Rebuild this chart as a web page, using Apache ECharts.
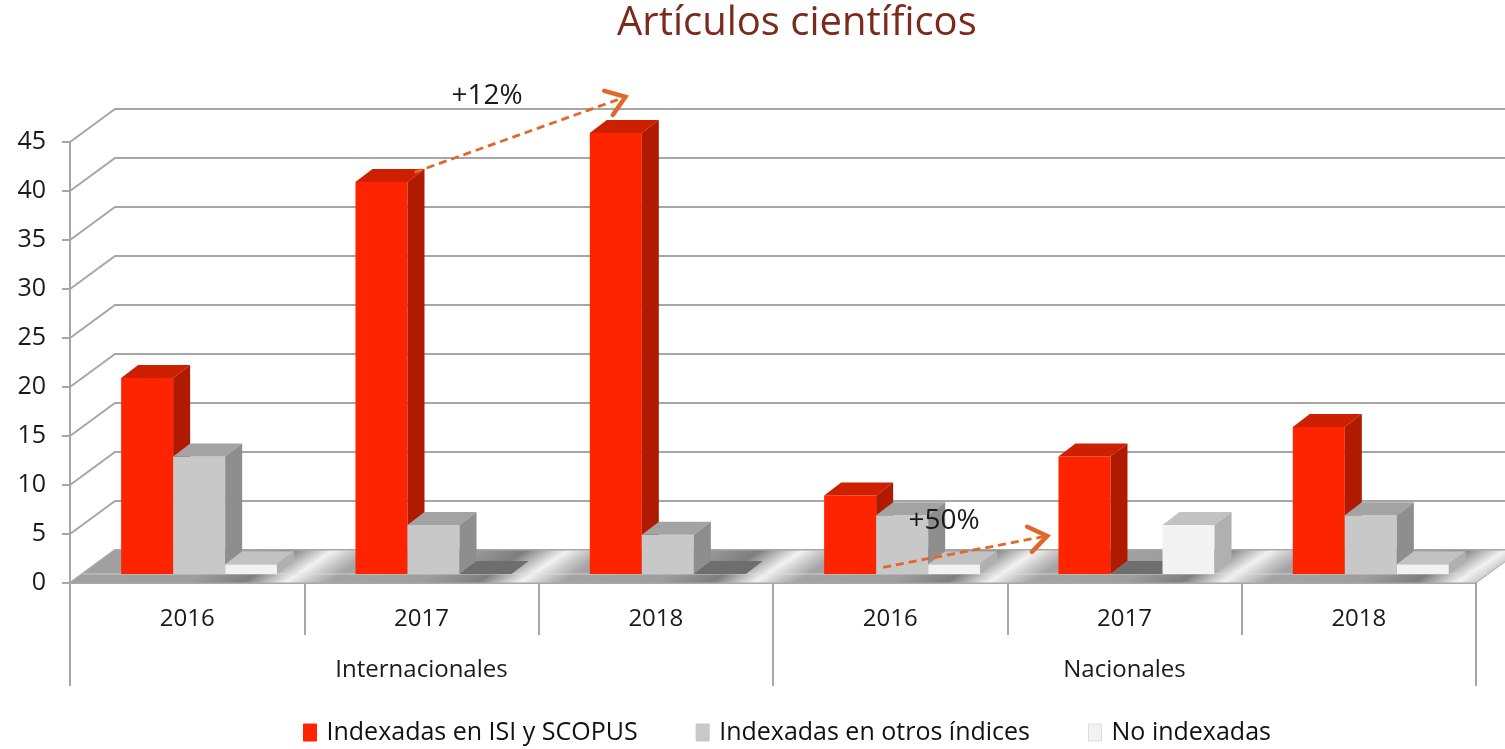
<!DOCTYPE html>
<html>
<head>
<meta charset="utf-8">
<script src="https://cdn.jsdelivr.net/npm/echarts@6/dist/echarts.min.js"></script>
<style>
  html, body { margin: 0; padding: 0; background: #fff; }
  #chart { width: 1505px; height: 749px; }
</style>
</head>
<body>
<div id="chart"></div>
<script>
// datos
var years = ['2016', '2017', '2018', '2016', '2017', '2018'];
var groups = ['Internacionales', 'Nacionales'];
var seriesNames = ['Indexadas en ISI y SCOPUS', 'Indexadas en otros índices', 'No indexadas'];
var isiScopus = [20, 40, 45, 8, 12, 15];
var otrosIndices = [12, 5, 4, 6, 0, 6];
var noIndexadas = [1, 0, 0, 1, 5, 1];
var yTicks = [0, 5, 10, 15, 20, 25, 30, 35, 40, 45];

// flechas de crecimiento (posicion en categorias / valor)
var arrowLabels = ['+12%', '+50%'];
var arrowFrom = [[0.97, 41.9], [2.97, 1.6]];
var arrowTo = [[1.87, 49.6], [3.67, 4.8]];
var arrowText = [[1.28, 49.7], [3.23, 6.3]];

var WALL_X = 45, WALL_Y = 33;     // profundidad de la pared
var DX = 17, DY = 13;             // profundidad de cada barra
var SHIFT_X = 12, SHIFT_Y = -9;   // barras apoyadas dentro del suelo
var GRID_COLOR = '#a6a6a6';
var FONT = '"Open Sans", Lato, sans-serif';

var palettes = [
  { front: '#ff2400', top: '#cc2000', side: '#b01a00' },
  { front: '#c8c8c8', top: '#a3a3a3', side: '#8e8e8e' },
  { front: '#f2f2f2', top: '#c2c2c2', side: '#b0b0b0' }
];
var allValues = [isiScopus, otrosIndices, noIndexadas];

var chart = echarts.init(document.getElementById('chart'));

function barRenderer(s) {
  return function (params, api) {
    var i = api.value(0), v = api.value(1);
    var base = api.coord([i, 0]);
    var top = api.coord([i, v]);
    var band = api.size([1, 0])[0];
    var bw = band * 0.222;
    var x0 = base[0] - 1.5 * bw + s * bw + SHIFT_X;
    var yb = base[1] + SHIFT_Y, yt = top[1] + SHIFT_Y;
    var p = palettes[s];
    if (v <= 0) {
      return {
        type: 'polygon',
        shape: { points: [[x0, yb], [x0 + bw, yb], [x0 + bw + DX, yb - DY], [x0 + DX, yb - DY]] },
        style: { fill: '#6e6e6e' }
      };
    }
    return {
      type: 'group',
      children: [
        { type: 'rect', shape: { x: x0, y: yt, width: bw, height: yb - yt }, style: { fill: p.front } },
        { type: 'polygon', shape: { points: [[x0, yt], [x0 + bw, yt], [x0 + bw + DX, yt - DY], [x0 + DX, yt - DY]] }, style: { fill: p.top } },
        { type: 'polygon', shape: { points: [[x0 + bw, yt], [x0 + bw + DX, yt - DY], [x0 + bw + DX, yb - DY], [x0 + bw, yb]] }, style: { fill: p.side } }
      ]
    };
  };
}

var barSeries = seriesNames.map(function (name, s) {
  return {
    name: name,
    type: 'custom',
    z: 10,
    itemStyle: { color: palettes[s].front },
    renderItem: barRenderer(s),
    data: allValues[s].map(function (v, i) { return [i, v]; })
  };
});

// suelo metalico: vetas diagonales repetidas en cada categoria
function floorStops() {
  var st = [{ offset: 0, color: '#a0a0a0' }];
  function add(o, c) { st.push({ offset: Math.max(0, Math.min(1, o)), color: c }); }
  for (var k = 1; k <= 6; k++) {
    var pk = k / 6 - 0.014;
    add(pk - 0.07, '#9e9e9e');
    add(pk - 0.03, '#7e7e7e');
    add(pk, '#f2f2f2');
    add(pk + 0.015, '#c8c8c8');
    add(pk + 0.03, '#a4a4a4');
  }
  add(1, '#a2a2a2');
  return st;
}

var option = {
  animation: false,
  backgroundColor: '#fff',
  title: {
    text: 'Artículos científicos',
    left: 612,
    top: -1,
    textStyle: { fontFamily: FONT, fontSize: 40, fontWeight: 'normal', color: '#7b2a1e' }
  },
  legend: {
    data: seriesNames.map(function (n, s) {
      return { name: n, itemStyle: { color: palettes[s].front, borderColor: s === 2 ? '#dddddd' : palettes[s].front, borderWidth: 1 } };
    }),
    bottom: -1,
    left: 298,
    icon: 'rect',
    itemWidth: 13,
    itemHeight: 17,
    itemGap: 58,
    textStyle: { fontFamily: FONT, fontSize: 25, color: '#111', padding: [0, 0, 0, 5] }
  },
  grid: { left: 70, right: 29, top: 142, bottom: 166, outerBoundsMode: 'none' },
  xAxis: [
    {
      type: 'category',
      data: years,
      position: 'bottom',
      axisLine: { show: true, lineStyle: { color: GRID_COLOR, width: 2 } },
      axisTick: { show: true, length: 52, lineStyle: { color: GRID_COLOR, width: 2 } },
      axisLabel: { fontFamily: FONT, fontSize: 24, color: '#1a1a1a', margin: 24 },
      splitLine: { show: false }
    },
    {
      type: 'category',
      data: groups,
      position: 'bottom',
      axisLine: { show: false },
      axisTick: { show: true, length: 103, lineStyle: { color: GRID_COLOR, width: 2 } },
      axisLabel: { fontFamily: FONT, fontSize: 24, color: '#1a1a1a', margin: 75 },
      splitLine: { show: false }
    }
  ],
  yAxis: {
    type: 'value',
    min: 0,
    max: 45,
    interval: 5,
    axisLine: { show: true, lineStyle: { color: GRID_COLOR, width: 2 } },
    axisTick: { show: true, length: 8, lineStyle: { color: GRID_COLOR, width: 2 } },
    axisLabel: { fontFamily: FONT, fontSize: 25, color: '#1a1a1a', margin: 24 },
    splitLine: { show: false }
  },
  series: [
    {
      // rejilla en la pared del fondo
      type: 'custom',
      z: 1,
      silent: true,
      renderItem: function (params, api) {
        var cs = params.coordSys;
        var y = api.coord([0, api.value(1)])[1];
        return {
          type: 'polyline',
          shape: { points: [[cs.x, y], [cs.x + WALL_X, y - WALL_Y], [cs.x + cs.width + WALL_X, y - WALL_Y]] },
          style: { stroke: GRID_COLOR, lineWidth: 2, fill: null }
        };
      },
      data: yTicks.map(function (v) { return [0, v]; })
    },
    {
      // suelo
      type: 'custom',
      z: 2,
      silent: true,
      renderItem: function (params, api) {
        var cs = params.coordSys;
        var y = api.coord([0, 0])[1];
        var band = api.size([1, 0])[0];
        var L = 6 * band / 3.25;
        var grad = new echarts.graphic.LinearGradient(cs.x, y, cs.x + L, y + 1.5 * L, floorStops(), true);
        return {
          type: 'group',
          children: [
            {
              type: 'polygon',
              shape: { points: [[cs.x, y], [cs.x + cs.width, y], [cs.x + cs.width + WALL_X, y - WALL_Y], [cs.x + WALL_X, y - WALL_Y]] },
              style: { fill: grad, stroke: '#a8a8a8', lineWidth: 1 }
            },
            {
              type: 'line',
              shape: { x1: cs.x - SHIFT_Y * WALL_X / WALL_Y, y1: y + SHIFT_Y, x2: cs.x + cs.width - SHIFT_Y * WALL_X / WALL_Y, y2: y + SHIFT_Y },
              style: { stroke: 'rgba(225,225,225,0.7)', lineWidth: 1 }
            }
          ]
        };
      },
      data: [[0, 0]]
    }
  ].concat(barSeries).concat([
    {
      // flechas de crecimiento
      type: 'custom',
      z: 20,
      silent: true,
      renderItem: function (params, api) {
        var idx = params.dataIndex;
        var c0 = api.coord([0, 0]);
        var band = api.size([1, 0])[0];
        function pt(p) { return [c0[0] + p[0] * band, api.coord([0, p[1]])[1]]; }
        var a = pt(arrowFrom[idx]), b = pt(arrowTo[idx]), t = pt(arrowText[idx]);
        var ang = Math.atan2(b[1] - a[1], b[0] - a[0]);
        var L = 22, spread = 0.62;
        var h1 = [b[0] - L * Math.cos(ang - spread), b[1] - L * Math.sin(ang - spread)];
        var h2 = [b[0] - L * Math.cos(ang + spread), b[1] - L * Math.sin(ang + spread)];
        return {
          type: 'group',
          children: [
            { type: 'line', shape: { x1: a[0], y1: a[1], x2: b[0] - 4 * Math.cos(ang), y2: b[1] - 4 * Math.sin(ang) },
              style: { stroke: '#e2682a', lineWidth: 2.8, lineDash: [8, 5] } },
            { type: 'polyline', shape: { points: [h1, b, h2] },
              style: { stroke: '#e2682a', lineWidth: 4.5, fill: null, lineJoin: 'miter', lineCap: 'round' } },
            { type: 'text', x: t[0], y: t[1],
              style: { text: arrowLabels[idx], fontFamily: FONT, fontSize: 28, fill: '#1a1a1a', align: 'center', verticalAlign: 'middle' } }
          ]
        };
      },
      data: arrowLabels.map(function () { return [0, 0]; })
    }
  ])
};

chart.setOption(option);
</script>
</body>
</html>
